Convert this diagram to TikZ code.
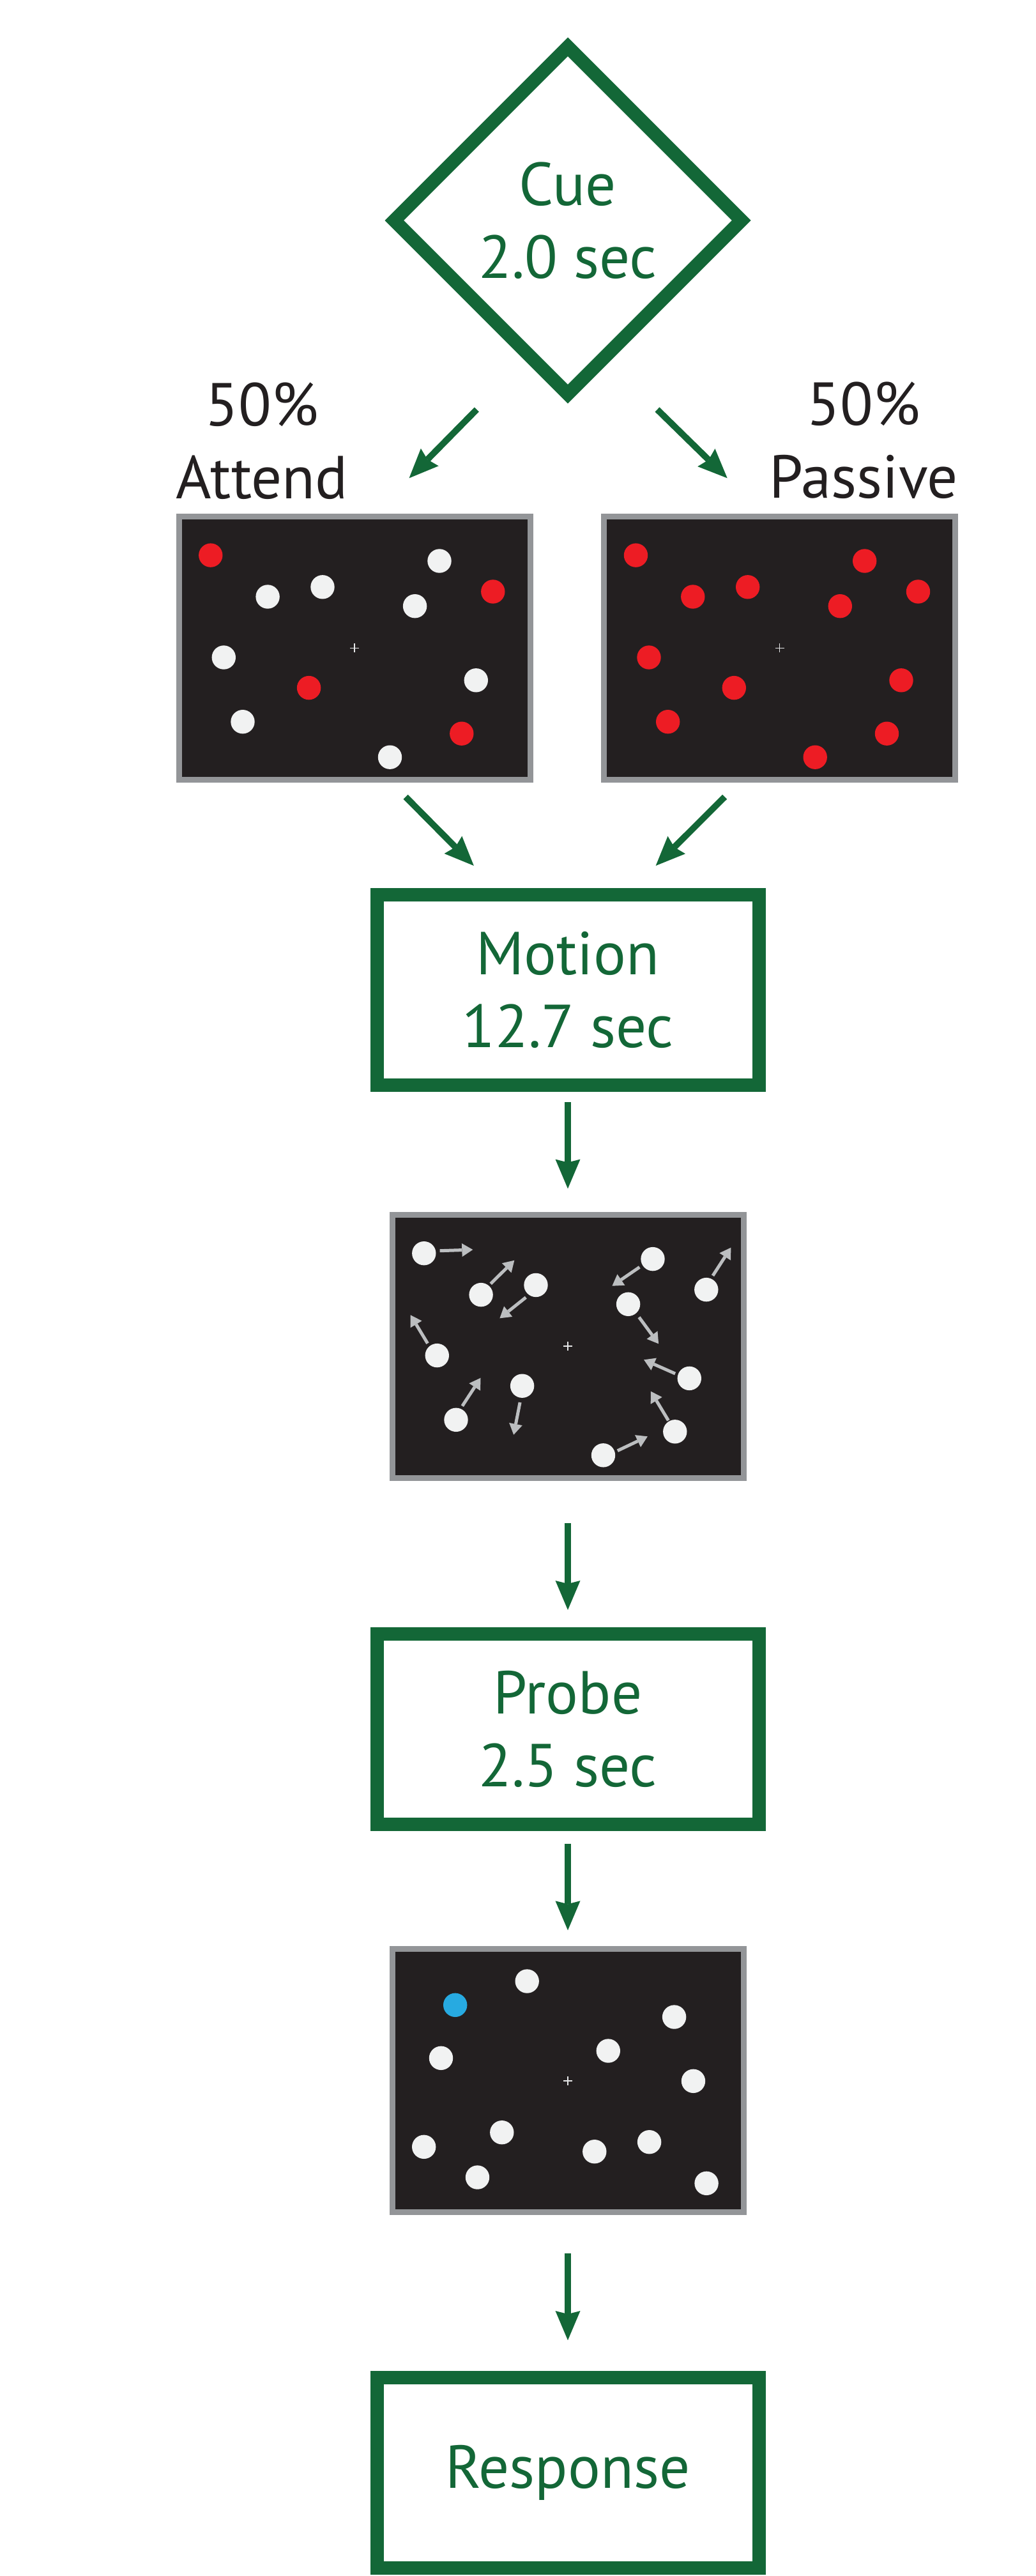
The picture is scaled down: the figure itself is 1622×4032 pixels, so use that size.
\documentclass[tikz,border=0pt]{standalone}
\usepackage{fontspec}
\setmainfont{PT Sans}
\usetikzlibrary{arrows.meta,shapes.geometric,calc}

\definecolor{cuegreen}{RGB}{19,103,55}
\definecolor{inkblack}{HTML}{231F20}
\definecolor{screenblack}{HTML}{231F20}
\definecolor{bezel}{HTML}{939598}
\definecolor{dotwhite}{HTML}{F1F2F2}
\definecolor{dotred}{HTML}{ED1C24}
\definecolor{dotblue}{HTML}{27AAE1}
\definecolor{driftgray}{HTML}{BCBEC0}
\definecolor{crossgray}{HTML}{E6E7E8}

\begin{document}
\begin{tikzpicture}[x=1pt,y=-1pt,
  bigtext/.style={font=\fontsize{95}{114}\selectfont},
  stagebox/.style={rectangle, draw=cuegreen, line width=21pt, fill=white,
    minimum width=598pt, minimum height=298pt, inner sep=0pt,
    text=cuegreen, align=center, bigtext},
  cuebox/.style={diamond, aspect=1, draw=cuegreen, line width=21pt, fill=white,
    minimum width=552pt, minimum height=552pt, inner sep=0pt,
    text=cuegreen, align=center, bigtext},
  screenbox/.style={rectangle, draw=bezel, fill=screenblack, line width=9pt,
    minimum width=550pt, minimum height=412pt, inner sep=0pt},
  pctlabel/.style={text=inkblack, align=center, inner sep=0pt, anchor=south, bigtext},
  flow/.style={draw=cuegreen, line width=10pt,
    -{Stealth[length=46pt,width=39pt,inset=5pt,line width=0pt]}},
  drift/.style={draw=driftgray, line width=5pt,
    -{Triangle[length=17pt,width=21pt,line width=0pt]}},
  fixcross/.style={draw=crossgray, line width=1.4pt},
]
\useasboundingbox (0,0) rectangle (1622,4032);

% stages
\node[cuebox]   (cue)      at (889,345)    {Cue\\2.0 sec};
\node[screenbox] (attend)  at (555,1014.4) {};
\node[screenbox] (passive) at (1220.7,1014.4) {};
\node[stagebox] (motion)   at (889,1549.7) {Motion\\12.7 sec};
\node[screenbox] (mpanel)  at (889,2107)   {};
\node[stagebox] (probe)    at (889,2706.4) {Probe\\2.5 sec};
\node[screenbox] (ppanel)  at (889,3256.8) {};
\node[stagebox] (response) at (889,3870.5) {Response};

% condition labels
\node[pctlabel] (lblattend)  at (410,782)    {50\%\\Attend};
\node[pctlabel] (lblpassive) at (1352.4,781) {50\%\\Passive};

% free ends of the branching arrows
\coordinate (cueL)  at ($(cue.center)+(-142.7,296)$);
\coordinate (cueR)  at ($(cue.center)+(140,296)$);
\coordinate (attIn) at ($(attend.center)+(85.5,-266)$);
\coordinate (pasIn) at ($(passive.center)+(-82,-266)$);
\coordinate (attOut) at ($(attend.center)+(80.1,232.9)$);
\coordinate (pasOut) at ($(passive.center)+(-86.1,232.9)$);
\coordinate (motInL) at ($(motion.center)+(-147.2,-194.7)$);
\coordinate (motInR) at ($(motion.center)+(137.7,-194.7)$);

\draw[flow] (cueL) -- (attIn);
\draw[flow] (cueR) -- (pasIn);
\draw[flow] (attOut) -- (motInL);
\draw[flow] (pasOut) -- (motInR);

% vertical flow
\draw[flow] ($(motion.south)+(0,16)$) -- ($(mpanel.north)+(0,-36)$);
\draw[flow] ($(mpanel.south)+(0,66)$) -- ($(probe.north)+(0,-27)$);
\draw[flow] ($(probe.south)+(0,20)$) -- ($(ppanel.north)+(0,-25)$);
\draw[flow] ($(ppanel.south)+(0,60)$) -- ($(response.north)+(0,-48)$);

% attend display: four red targets among white dots
\begin{scope}[shift={(attend.center)}]
  \foreach \x/\y/\c in {-225.2/-145.3/dotred, -135.9/-80.4/dotwhite,
      -50/-95.6/dotwhite, 133/-136.4/dotwhite, 216.8/-88.4/dotred,
      94.6/-65.7/dotwhite, -204.7/14.6/dotwhite, -71.4/62.2/dotred,
      190.3/50.4/dotwhite, -175/115.3/dotwhite, 167.8/133.8/dotred,
      55.5/170.8/dotwhite}
    \fill[\c] (\x,\y) circle[radius=18.7pt];
  \draw[fixcross] (-7,0) -- (7,0) (0,-7) -- (0,7);
\end{scope}

% passive display: all dots red
\begin{scope}[shift={(passive.center)}]
  \foreach \x/\y in {-225.2/-145.3, -135.9/-80.4, -50/-95.6, 133/-136.4,
      216.8/-88.4, 94.6/-65.7, -204.7/14.6, -71.4/62.2, 190.3/50.4,
      -175/115.3, 167.8/133.8, 55.5/170.8}
    \fill[dotred] (\x,\y) circle[radius=18.7pt];
  \draw[fixcross] (-7,0) -- (7,0) (0,-7) -- (0,7);
\end{scope}

% motion display: white dots with direction arrows
\begin{scope}[shift={(mpanel.center)}]
  \foreach \x/\y in {-225.2/-145.3, -135.9/-80.4, -50/-95.6, 133/-136.4,
      216.8/-88.4, 94.6/-65.7, -204.7/14.6, -71.4/62.2, 190.3/50.4,
      -175/115.3, 167.8/133.8, 55.5/170.8}
    \fill[dotwhite] (\x,\y) circle[radius=18.7pt];
  \foreach \ax/\ay/\bx/\by in {-200.4/-149.3/-148.7/-151,
      -120.8/-97.7/-83.7/-134.3, -65.7/-76.3/-106.6/-43.7,
      112.3/-123.7/69.4/-94.3, 227/-110.3/255.4/-154.3,
      111.5/-45.3/142.1/-3.7, -219.5/-4.3/-246.3/-48.7,
      168.1/43/119.1/21.3, -165.2/93.7/-136.5/49.7,
      -74.9/88/-84.8/138.7, 157.4/116.3/129.9/70.7,
      77.8/163.7/124.9/141.3}
    \draw[drift] (\ax,\ay) -- (\bx,\by);
  \draw[fixcross] (-7,0) -- (7,0) (0,-7) -- (0,7);
\end{scope}

% probe display: one blue probe dot
\begin{scope}[shift={(ppanel.center)}]
  \foreach \x/\y/\c in {-63.8/-155.8/dotwhite, -176.3/-118.5/dotblue,
      166.6/-99.8/dotwhite, -198.5/-35.5/dotwhite, 63.3/-46.8/dotwhite,
      196.5/0.5/dotwhite, -103.2/80.9/dotwhite, -225.3/103.5/dotwhite,
      41.8/110.9/dotwhite, 127.6/95.9/dotwhite, -141.5/151.2/dotwhite,
      217.1/160.5/dotwhite}
    \fill[\c] (\x,\y) circle[radius=18.7pt];
  \draw[fixcross] (-7,0) -- (7,0) (0,-7) -- (0,7);
\end{scope}
\end{tikzpicture}
\end{document}
